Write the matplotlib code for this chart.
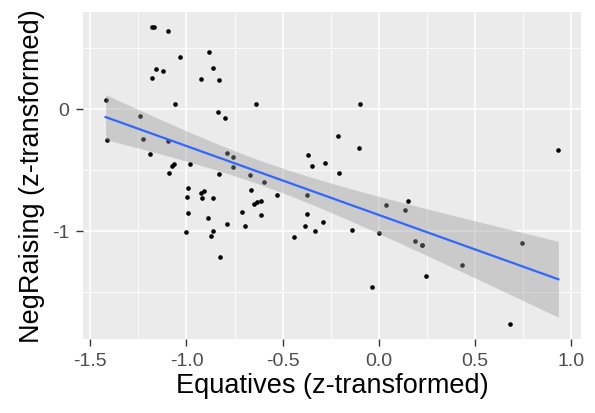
import numpy as np
import matplotlib
matplotlib.use("Agg")
import matplotlib.pyplot as plt
from matplotlib.ticker import FixedLocator

plt.rcParams['font.family'] = ['Liberation Sans', 'DejaVu Sans']

equatives = [-1.181, -1.169, -1.098, -1.035, -0.881, -1.158, -1.122, -1.179, -0.926, -0.829,
             -0.860, -1.420, -1.060, -0.641, -0.834, -0.802, -1.242, -1.411, -1.224, -1.096,
             -1.188, -0.791, -0.758, -1.073, -1.067, -0.982, -0.758, -1.092, -0.831, -0.670,
             -0.597, -0.531, -0.992, -0.999, -0.926, -0.907, -0.917, -0.864, -0.663, -0.649,
             -0.632, -0.615, -0.712, -0.611, -0.994, -0.886, -0.788, -0.696, -1.004, -0.864,
             -0.871, -0.826, -0.097, -0.211, -0.104, -0.370, -0.348, -0.278, -0.208, -0.376,
             -0.374, -0.382, -0.332, -0.289, -0.442, -0.138, 0.002, 0.036, 0.153, 0.135,
             0.187, 0.225, 0.226, 0.244, -0.036, 0.933, 0.431, 0.745, 0.684]
negraising = [0.675, 0.670, 0.642, 0.429, 0.467, 0.325, 0.314, 0.254, 0.246, 0.240,
              0.334, 0.071, 0.041, 0.041, -0.027, -0.076, -0.055, -0.254, -0.248, -0.262,
              -0.369, -0.363, -0.393, -0.465, -0.453, -0.448, -0.475, -0.522, -0.530, -0.543,
              -0.601, -0.702, -0.645, -0.724, -0.691, -0.672, -0.732, -0.732, -0.666, -0.781,
              -0.765, -0.754, -0.844, -0.869, -0.855, -0.891, -0.943, -0.961, -1.006, -0.998,
              -1.043, -1.211, 0.043, -0.219, -0.320, -0.377, -0.465, -0.440, -0.527, -0.705,
              -0.861, -0.961, -1.002, -0.924, -1.047, -0.992, -1.014, -0.787, -0.752, -0.825,
              -1.080, -1.112, -1.120, -1.371, -1.459, -0.336, -1.284, -1.098, -1.765]

x_ticks = [-1.5, -1.0, -0.5, 0.0, 0.5, 1.0]
x_tick_labels = ["-1.5", "-1.0", "-0.5", "0.0", "0.5", "1.0"]
y_ticks = [-1, 0]
y_tick_labels = ["-1", "0"]

x = np.array(equatives)
y = np.array(negraising)
n = len(x)

# linear fit with 95% CI
b1, b0 = np.polyfit(x, y, 1)
resid = y - (b0 + b1 * x)
s = np.sqrt(np.sum(resid ** 2) / (n - 2))
xm = x.mean()
sxx = np.sum((x - xm) ** 2)
xs = np.linspace(x.min(), x.max(), 80)
ys = b0 + b1 * xs
t = 1.992  # t(0.975, ~77 df)
se = s * np.sqrt(1.0 / n + (xs - xm) ** 2 / sxx)
lo, hi = ys - t * se, ys + t * se

fig = plt.figure(figsize=(5.95, 4.14), dpi=100)
ax = fig.add_axes([0.1395, 0.1787, 0.9765 - 0.1395, 0.9693 - 0.1787])
ax.set_facecolor('#EBEBEB')

ax.scatter(x, y, s=11, color='black', zorder=3, linewidths=0)
ax.fill_between(xs, lo, hi, color='#999999', alpha=0.4, linewidth=0, zorder=4)
ax.plot(xs, ys, color='#3366FF', linewidth=1.6, zorder=5)

xr = x.max() - x.min()
ax.set_xlim(x.min() - 0.05 * xr, x.max() + 0.05 * xr)
ymin = min(y.min(), lo.min())
ymax = max(y.max(), hi.max())
yr = ymax - ymin
ax.set_ylim(ymin - 0.05 * yr, ymax + 0.05 * yr)

ax.xaxis.set_major_locator(FixedLocator(x_ticks))
ax.set_xticklabels(x_tick_labels)
ax.xaxis.set_minor_locator(FixedLocator([-1.25, -0.75, -0.25, 0.25, 0.75]))
ax.yaxis.set_major_locator(FixedLocator(y_ticks))
ax.set_yticklabels(y_tick_labels)
ax.yaxis.set_minor_locator(FixedLocator([-1.5, -0.5, 0.5]))

ax.grid(which='major', color='white', linewidth=1.1, zorder=0)
ax.grid(which='minor', color='white', linewidth=0.55, zorder=0)
ax.set_axisbelow(True)
for sp in ax.spines.values():
    sp.set_visible(False)
ax.tick_params(which='major', length=5, width=1.0, color='#333333',
               labelcolor='#4D4D4D', labelsize=14)
ax.tick_params(axis='x', which='major', pad=4.2)
ax.tick_params(axis='y', which='major', pad=5)
ax.tick_params(which='minor', length=0)

ax.set_xlabel('Equatives (z-transformed)', fontsize=19.5, color='black', labelpad=2.5)
ax.set_ylabel('NegRaising (z-transformed)', fontsize=19.5, color='black', labelpad=5)

fig.savefig('out.png', dpi=100)
